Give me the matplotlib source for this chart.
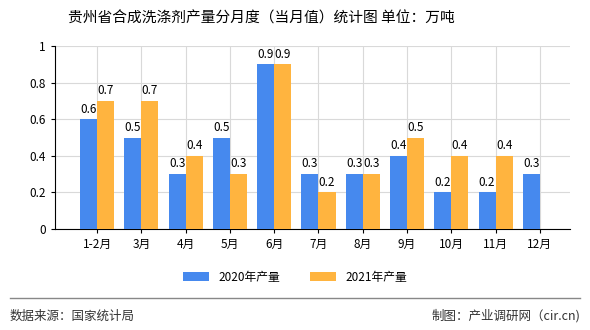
import matplotlib
matplotlib.use("Agg")
import matplotlib.pyplot as plt
import numpy as np

plt.rcParams['font.family'] = ['Noto Sans CJK SC', 'DejaVu Sans']

months = ["1-2月", "3月", "4月", "5月", "6月", "7月", "8月", "9月", "10月", "11月", "12月"]
output_2020 = [0.6, 0.5, 0.3, 0.5, 0.9, 0.3, 0.3, 0.4, 0.2, 0.2, 0.3]
output_2021 = [0.7, 0.7, 0.4, 0.3, 0.9, 0.2, 0.3, 0.5, 0.4, 0.4, None]

blue = "#4689EE"
orange = "#FFB43F"

fig = plt.figure(figsize=(5.9, 3.3), dpi=100)
ax = fig.add_axes([55 / 590, (330 - 229) / 330, (570 - 55) / 590, (229 - 46) / 330])

x = np.arange(len(months))
w = 0.385
vals21 = [v if v is not None else 0 for v in output_2021]
b1 = ax.bar(x - w / 2, output_2020, w, color=blue, label="2020年产量", zorder=3)
b2 = ax.bar(x + w / 2, vals21, w, color=orange, label="2021年产量", zorder=3)

# value labels on top of the bars
for xi, v in zip(x, output_2020):
    ax.text(xi - w / 2, v + 0.02, f"{v:g}", ha="center", va="bottom", fontsize=8.5)
for xi, v in zip(x, output_2021):
    if v is not None:
        ax.text(xi + w / 2, v + 0.02, f"{v:g}", ha="center", va="bottom", fontsize=8.5)

ax.set_ylim(0, 1)
ax.set_yticks([0, 0.2, 0.4, 0.6, 0.8, 1])
ax.set_yticklabels(["0", "0.2", "0.4", "0.6", "0.8", "1"])
ax.set_xlim(-0.95, 10.68)
ax.set_xticks(x)
ax.set_xticklabels(months)
ax.tick_params(labelsize=8.5, length=3, color="black")
ax.grid(True, color="#d9d9d9", linewidth=0.8, zorder=0)
for s in ["top", "right"]:
    ax.spines[s].set_visible(False)
ax.spines["left"].set_color("black")
ax.spines["bottom"].set_color("black")

fig.text(261 / 590, 1 - 18 / 330, "贵州省合成洗涤剂产量分月度（当月值）统计图 单位：万吨",
         ha="center", va="center", fontsize=10.6)

fig.legend(handles=[b1, b2], loc="center", bbox_to_anchor=(0.5, 1 - 277 / 330),
           ncol=2, frameon=False, fontsize=8.5, handlelength=2.2, handleheight=0.8,
           columnspacing=2.5)

fig.add_artist(plt.Line2D([10 / 590, 580 / 590], [1 - 298 / 330, 1 - 298 / 330],
                          color="#888888", linewidth=1))
fig.text(10 / 590, 1 - 316 / 330, "数据来源：国家统计局", ha="left", va="center",
         fontsize=9, color="#333333")
fig.text(580 / 590, 1 - 316 / 330, "制图：产业调研网（cir.cn)", ha="right", va="center",
         fontsize=9, color="#333333")

fig.savefig("out.png", dpi=100)
